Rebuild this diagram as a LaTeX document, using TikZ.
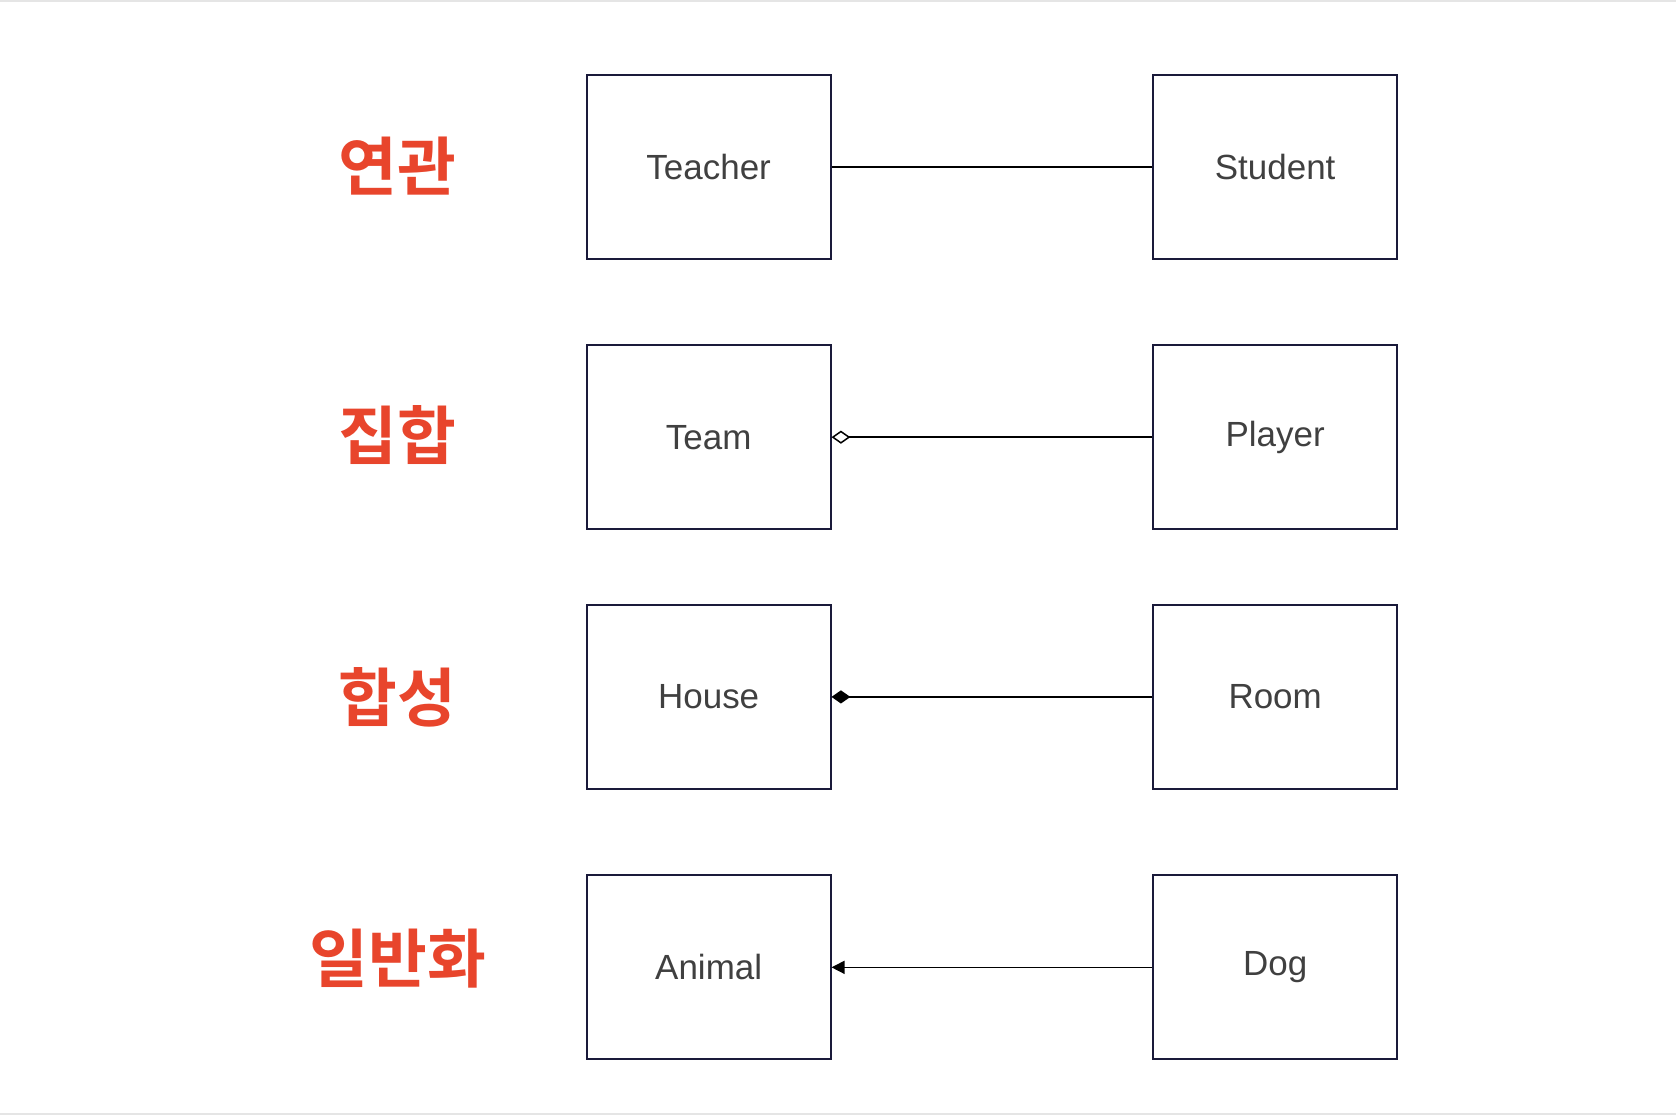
\documentclass[tikz,border=0pt]{standalone}
\usepackage{fontspec}
\setmainfont{Liberation Sans}
\newfontfamily\kr{Noto Sans CJK KR}[BoldFont={* Bold}]
\usetikzlibrary{arrows.meta}
\definecolor{krred}{HTML}{E8452C}
\definecolor{boxline}{HTML}{1A1A3A}
\begin{document}
\begin{tikzpicture}[x=0.01cm,y=-0.01cm,
  cls/.style={draw=boxline,line width=0.5pt,minimum width=2.28cm,minimum height=1.72cm,inner sep=0pt,font=\fontsize{9.3}{11}\selectfont,text=black!75},
  lbl/.style={font=\kr\bfseries\fontsize{17}{20}\selectfont,text=krred},
  conn/.style={draw=black,line width=0.4pt}]
\useasboundingbox (0,0) rectangle (1568,1044);
\draw[black!10] (0,1) -- (1568,1);
\draw[black!10] (0,1042) -- (1568,1042);
\node[lbl] (l1) at (372,155) {연관};
\node[lbl] (l2) at (372,407) {집합};
\node[lbl] (l3) at (372,652) {합성};
\node[lbl] (l4) at (372,897) {일반화};
\node[cls] (teacher) at (663,156) {Teacher};
\node[cls] (student) at (1193,156) {Student};
\node[cls] (team) at (663,409) {Team};
\node[cls] (player) at (1193,409) {Player};
\node[cls] (house) at (663,652) {House};
\node[cls] (room) at (1193,652) {Room};
\node[cls] (animal) at (663,905) {Animal};
\node[cls] (dog) at (1193,905) {Dog};
\draw[conn] (teacher) -- (student);
\draw[conn,{Diamond[open,length=5pt,width=3.5pt]}-] (team) -- (player);
\draw[conn,{Diamond[length=5pt,width=3.5pt]}-] (house) -- (room);
\draw[conn,{Triangle[length=3.5pt,width=3.5pt]}-] (animal) -- (dog);
\end{tikzpicture}
\end{document}
